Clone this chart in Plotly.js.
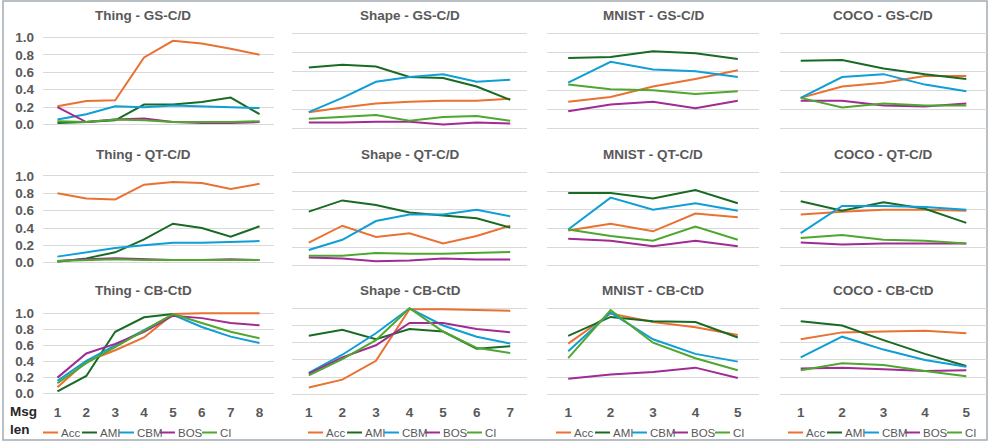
<!DOCTYPE html>
<html>
<head>
<meta charset="utf-8">
<script src="https://cdn.plot.ly/plotly-3.0.1.min.js"></script>
<style>html,body{margin:0;padding:0;background:#fff;}#chart{width:996px;height:448px;}</style>
</head>
<body>
<div id="chart"></div>
<script>
// ---------------- DATA ----------------
const seriesNames = ['Acc', 'AMI', 'CBM', 'BOS', 'CI'];
const datasets = ['Thing', 'Shape', 'MNIST', 'COCO'];
const settings = ['GS-C/D', 'QT-C/D', 'CB-CtD'];
const msgLenThing = [1, 2, 3, 4, 5, 6, 7, 8];
const msgLenShape = [1, 2, 3, 4, 5, 6, 7];
const msgLenMnist = [1, 2, 3, 4, 5];
const msgLenCoco = [1, 2, 3, 4, 5];

// each panel: rows in seriesNames order (Acc, AMI, CBM, BOS, CI)
const thingGS = [
  [0.21, 0.27, 0.28, 0.77, 0.96, 0.93, 0.87, 0.80],
  [0.02, 0.03, 0.05, 0.23, 0.23, 0.26, 0.31, 0.12],
  [0.06, 0.12, 0.21, 0.20, 0.22, 0.21, 0.20, 0.19],
  [0.20, 0.03, 0.06, 0.07, 0.03, 0.02, 0.02, 0.03],
  [0.04, 0.03, 0.06, 0.05, 0.03, 0.03, 0.03, 0.04]
];
const shapeGS = [
  [0.17, 0.22, 0.26, 0.28, 0.29, 0.29, 0.31],
  [0.64, 0.67, 0.65, 0.54, 0.53, 0.44, 0.30],
  [0.17, 0.32, 0.49, 0.54, 0.57, 0.49, 0.51],
  [0.06, 0.06, 0.07, 0.07, 0.04, 0.06, 0.05],
  [0.10, 0.12, 0.14, 0.08, 0.12, 0.13, 0.08]
];
const mnistGS = [
  [0.28, 0.33, 0.44, 0.52, 0.61],
  [0.74, 0.75, 0.81, 0.79, 0.73],
  [0.48, 0.70, 0.62, 0.60, 0.54],
  [0.18, 0.25, 0.28, 0.21, 0.29],
  [0.46, 0.41, 0.40, 0.36, 0.39]
];
const cocoGS = [
  [0.32, 0.44, 0.48, 0.55, 0.55],
  [0.71, 0.72, 0.63, 0.57, 0.52],
  [0.32, 0.54, 0.57, 0.46, 0.39],
  [0.29, 0.29, 0.24, 0.23, 0.26],
  [0.32, 0.22, 0.26, 0.24, 0.24]
];
const thingQT = [
  [0.80, 0.74, 0.73, 0.90, 0.93, 0.92, 0.85, 0.91],
  [0.01, 0.05, 0.12, 0.27, 0.45, 0.40, 0.30, 0.42],
  [0.07, 0.12, 0.17, 0.20, 0.23, 0.23, 0.24, 0.25],
  [0.02, 0.04, 0.05, 0.04, 0.03, 0.03, 0.04, 0.03],
  [0.02, 0.03, 0.04, 0.03, 0.03, 0.03, 0.03, 0.03]
];
const shapeQT = [
  [0.25, 0.43, 0.31, 0.35, 0.24, 0.32, 0.43],
  [0.58, 0.70, 0.65, 0.57, 0.54, 0.51, 0.41],
  [0.17, 0.28, 0.48, 0.55, 0.55, 0.60, 0.53],
  [0.09, 0.08, 0.05, 0.06, 0.08, 0.07, 0.07],
  [0.11, 0.11, 0.14, 0.13, 0.13, 0.14, 0.15]
];
const mnistQT = [
  [0.38, 0.45, 0.37, 0.56, 0.52],
  [0.78, 0.78, 0.72, 0.81, 0.67],
  [0.39, 0.73, 0.60, 0.67, 0.59],
  [0.29, 0.27, 0.21, 0.27, 0.21],
  [0.39, 0.32, 0.27, 0.42, 0.28]
];
const cocoQT = [
  [0.55, 0.58, 0.60, 0.60, 0.59],
  [0.69, 0.59, 0.68, 0.61, 0.46],
  [0.35, 0.64, 0.64, 0.63, 0.60],
  [0.25, 0.23, 0.24, 0.24, 0.24],
  [0.30, 0.33, 0.28, 0.27, 0.24]
];
const thingCB = [
  [0.08, 0.40, 0.54, 0.70, 0.99, 1.00, 1.00, 1.00],
  [0.03, 0.22, 0.77, 0.95, 0.99, null, null, null],
  [0.16, 0.41, 0.60, 0.79, 0.98, 0.83, 0.71, 0.63],
  [0.20, 0.50, 0.62, 0.77, 0.97, 0.94, 0.88, 0.85],
  [0.13, 0.38, 0.58, 0.78, 0.99, 0.88, 0.77, 0.69]
];
const shapeCB = [
  [0.08, 0.17, 0.39, 0.99, 0.99, 0.98, 0.97],
  [0.68, 0.75, 0.64, 0.76, 0.73, 0.53, 0.56],
  [0.25, 0.46, 0.71, 1.00, 0.80, 0.67, 0.59],
  [0.24, 0.43, 0.57, 0.83, 0.83, 0.76, 0.72],
  [0.22, 0.41, 0.63, 1.00, 0.73, 0.54, 0.48]
];
const mnistCB = [
  [0.59, 0.94, 0.84, 0.78, 0.69],
  [0.68, 0.90, 0.85, 0.84, 0.66],
  [0.50, 0.95, 0.64, 0.47, 0.38],
  [0.18, 0.23, 0.26, 0.31, 0.19],
  [0.42, 0.98, 0.60, 0.42, 0.28]
];
const cocoCB = [
  [0.64, 0.72, 0.73, 0.74, 0.71],
  [0.85, 0.80, 0.63, 0.47, 0.33],
  [0.43, 0.67, 0.52, 0.40, 0.32],
  [0.30, 0.31, 0.29, 0.27, 0.28],
  [0.28, 0.36, 0.34, 0.27, 0.21]
];
const yTickVals = [0, 0.2, 0.4, 0.6, 0.8, 1.0];
const yTickText = ['0.0', '0.2', '0.4', '0.6', '0.8', '1.0'];

// ---------------- STYLE / LAYOUT ----------------
const colors = ['#E97132', '#196B24', '#0F9ED5', '#A02B93', '#4EA72E'];
const W = 996, H = 448;
const FONT = 'Liberation Sans, Arial, sans-serif';
const TXT = '#595959';
const xs = [msgLenThing, msgLenShape, msgLenMnist, msgLenCoco];
const panels = [
  [thingGS, shapeGS, mnistGS, cocoGS],
  [thingQT, shapeQT, mnistQT, cocoQT],
  [thingCB, shapeCB, mnistCB, cocoCB]
];
const colPx = [[43, 274], [292, 527], [547, 759], [780, 987]];
const rowPx = [
  [[37.3, 124.7], [33.3, 128.3], [33.3, 128.3], [33.3, 128.3]],
  [[176, 262.7], [172.3, 266], [172.3, 266], [172.3, 266]],
  [[313.3, 393.7], [308.3, 394.3], [308.3, 394.3], [308.3, 394.3]]
];
const titleX = [143, 410, 653, 883];
const titleY = [15.3, 155, 290.3];
const legendStart = [43, 308, 556, 788];
const legendOffsets = [0, 39, 76, 117, 159];
const legendY = 432.5;
const PAD = 0.03;

const traces = [];
const layout = {
  width: W, height: H,
  margin: {l: 0, r: 0, t: 0, b: 0},
  paper_bgcolor: '#ffffff', plot_bgcolor: '#ffffff',
  showlegend: false,
  font: {family: FONT, color: TXT},
  annotations: [], shapes: []
};

for (let r = 0; r < 3; r++) {
  for (let c = 0; c < 4; c++) {
    const idx = r * 4 + c + 1;
    const xa = 'xaxis' + (idx === 1 ? '' : idx);
    const ya = 'yaxis' + (idx === 1 ? '' : idx);
    const xref = 'x' + (idx === 1 ? '' : idx);
    const yref = 'y' + (idx === 1 ? '' : idx);
    const n = xs[c].length;
    const [T, B] = rowPx[r][c];
    const u = B - T;
    const top = T - PAD * u, bot = B + PAD * u;
    layout[xa] = {
      domain: [colPx[c][0] / W, colPx[c][1] / W],
      range: [0.5, n + 0.5],
      anchor: yref,
      tickvals: xs[c],
      ticktext: xs[c].map(String),
      showticklabels: r === 2,
      tickfont: {family: FONT, size: 13.5, color: TXT, weight: 'bold'},
      ticks: '', showgrid: false, zeroline: false, showline: false,
      ticklabelstandoff: 6,
      fixedrange: true
    };
    layout[ya] = {
      domain: [1 - bot / H, 1 - top / H],
      range: [-PAD, 1 + PAD],
      anchor: xref,
      tickvals: yTickVals,
      ticktext: yTickText,
      showticklabels: c === 0,
      tickfont: {family: FONT, size: 13.5, color: TXT, weight: 'bold'},
      ticks: '', showgrid: true, gridcolor: '#D9D9D9', gridwidth: 1,
      zeroline: false, showline: false,
      ticklabelstandoff: 8,
      fixedrange: true
    };
    const data = panels[r][c];
    for (let s = 0; s < seriesNames.length; s++) {
      traces.push({
        type: 'scatter', mode: 'lines',
        x: xs[c], y: data[s],
        name: seriesNames[s],
        xaxis: xref, yaxis: yref,
        line: {color: colors[s], width: 2},
        connectgaps: false,
        hoverinfo: 'skip'
      });
    }
    if (r === 0 || true) {
      layout.annotations.push({
        xref: 'paper', yref: 'paper',
        x: titleX[c] / W, y: 1 - titleY[r] / H,
        xanchor: 'center', yanchor: 'middle',
        text: '<b>' + datasets[c] + ' - ' + settings[r] + '</b>',
        showarrow: false,
        font: {family: FONT, size: 13.5, color: TXT}
      });
    }
  }
}

// legends (one under each column)
for (let c = 0; c < 4; c++) {
  for (let s = 0; s < seriesNames.length; s++) {
    const x0 = legendStart[c] + legendOffsets[s];
    layout.shapes.push({
      type: 'line', xref: 'paper', yref: 'paper',
      x0: x0 / W, x1: (x0 + 15) / W,
      y0: 1 - legendY / H, y1: 1 - legendY / H,
      line: {color: colors[s], width: 2}
    });
    layout.annotations.push({
      xref: 'paper', yref: 'paper',
      x: (x0 + 15.5) / W, y: 1 - legendY / H,
      xanchor: 'left', yanchor: 'middle',
      text: seriesNames[s], showarrow: false,
      font: {family: FONT, size: 11.5, color: TXT}
    });
  }
}

// "Msg len" label
layout.annotations.push({
  xref: 'paper', yref: 'paper', x: 23 / W, y: 1 - 411.5 / H,
  xanchor: 'center', yanchor: 'middle', showarrow: false,
  text: '<b>Msg</b>', font: {family: FONT, size: 13.5, color: '#262626'}
});
layout.annotations.push({
  xref: 'paper', yref: 'paper', x: 20 / W, y: 1 - 429 / H,
  xanchor: 'center', yanchor: 'middle', showarrow: false,
  text: '<b>len</b>', font: {family: FONT, size: 13.5, color: '#262626'}
});

// outer frame
layout.shapes.push({
  type: 'rect', xref: 'paper', yref: 'paper',
  x0: 3 / W, x1: 987 / W, y0: 1 - 440 / H, y1: 1 - 1 / H,
  line: {color: '#A3ACB3', width: 1.5}, fillcolor: 'rgba(0,0,0,0)', layer: 'below'
});

Plotly.newPlot('chart', traces, layout, {displayModeBar: false, staticPlot: true});
</script>
</body>
</html>
